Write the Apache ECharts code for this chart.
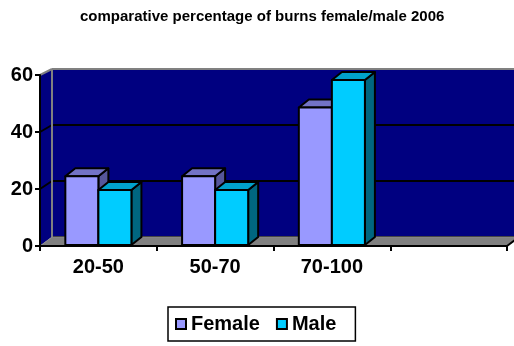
<!DOCTYPE html>
<html>
<head>
<meta charset="utf-8">
<script src="https://cdn.jsdelivr.net/npm/echarts@6/dist/echarts.min.js"></script>
<style>
  html, body { margin: 0; padding: 0; background: #fff; }
  #chart { width: 514px; height: 346px; }
</style>
</head>
<body>
<div id="chart"></div>
<script>
// Age groups on the x axis (the fourth slot is an empty category)
const categories = ['20-50', '50-70', '70-100', ''];
// Percentage of burns per age group
const female = [25, 25, 50];
const male = [20, 20, 60];
// Value axis ticks
const yTicks = [0, 20, 40, 60];

const FONT = '"Liberation Sans", Arial, sans-serif';

// Front plane of the 3D box, the back wall offset and the bar depth
const FRONT = { left: 40, right: 7, top: 75, bottom: 100 };
const WALL = { dx: 12, dyTop: -6, dyBottom: -9 };
const BARS = { left: 40, right: 7, top: 80, bottom: 101 };
const BAR_DEPTH = { dx: 10, dy: -8 };

const yMin = yTicks[0];
const yMax = yTicks[yTicks.length - 1];
const yStep = yTicks[1] - yTicks[0];

const palette = {
  Female: { front: '#9999FF', top: '#7373C6', side: '#56569A' },
  Male:   { front: '#00CCFF', top: '#00A2CC', side: '#006680' }
};

function barRenderer(name, side) {
  const col = palette[name];
  return function (params, api) {
    const idx = api.value(0);
    const val = api.value(1);
    const topPt = api.coord([idx, val]);
    const basePt = api.coord([idx, 0]);
    const band = api.size([1, 0])[0];
    const w = band * 0.283;
    const xL = side < 0 ? topPt[0] - w : topPt[0];
    const xR = xL + w;
    const yT = topPt[1];
    const yB = basePt[1];
    const dx = BAR_DEPTH.dx, dy = BAR_DEPTH.dy;
    const stroke = { stroke: '#000', lineWidth: 2, lineJoin: 'round' };
    return {
      type: 'group',
      children: [
        { type: 'polygon', shape: { points: [[xR, yT], [xR + dx, yT + dy], [xR + dx, yB + dy], [xR, yB]] },
          style: Object.assign({ fill: col.side }, stroke) },
        { type: 'polygon', shape: { points: [[xL, yT], [xR, yT], [xR + dx, yT + dy], [xL + dx, yT + dy]] },
          style: Object.assign({ fill: col.top }, stroke) },
        { type: 'rect', shape: { x: xL, y: yT, width: w, height: yB - yT },
          style: Object.assign({ fill: col.front }, stroke) }
      ]
    };
  };
}

// Floor, left side wall and back-wall rim of the box, drawn on the front grid
function frameRenderer(params, api) {
  const cs = params.coordSys;
  const x0 = cs.x, x1 = cs.x + cs.width;
  const yT = cs.y, yB = cs.y + cs.height;
  const bx0 = x0 + WALL.dx, bx1 = x1 + WALL.dx;
  const byT = yT + WALL.dyTop, byB = yB + WALL.dyBottom;
  const gray = { stroke: '#808080', lineWidth: 2 };
  const children = [];
  children.push({ type: 'polygon',
    shape: { points: [[x0, yT], [bx0, byT], [bx0, byB], [x0, yB]] },
    style: { fill: '#000080' } });
  yTicks.forEach(function (v) {
    if (v === yMin || v === yMax) return;
    const yf = api.coord([0, v])[1];
    const t = (v - yMin) / (yMax - yMin);
    const dy = WALL.dyBottom + (WALL.dyTop - WALL.dyBottom) * t;
    children.push({ type: 'line', shape: { x1: x0, y1: yf, x2: bx0, y2: yf + dy },
      style: { stroke: '#000', lineWidth: 2 } });
  });
  children.push({ type: 'line', shape: { x1: x0, y1: yT, x2: bx0, y2: byT }, style: gray });
  children.push({ type: 'line', shape: { x1: bx0, y1: byT, x2: bx0, y2: byB }, style: gray });
  children.push({ type: 'line', shape: { x1: bx0, y1: byT, x2: bx1, y2: byT }, style: gray });
  children.push({ type: 'polygon',
    shape: { points: [[x0, yB], [x1, yB], [bx1, byB], [bx0, byB]] },
    style: { fill: '#808080', stroke: '#8c8c8c', lineWidth: 1 } });
  children.push({ type: 'line', shape: { x1: x1, y1: yB, x2: bx1, y2: byB },
    style: { stroke: '#000', lineWidth: 2 } });
  return { type: 'group', children: children };
}

const chart = echarts.init(document.getElementById('chart'), null, { renderer: 'canvas' });

chart.setOption({
  animation: false,
  backgroundColor: '#ffffff',
  title: {
    text: 'comparative percentage of burns female/male 2006',
    left: 80,
    top: 9,
    padding: 0,
    textStyle: { fontFamily: FONT, fontWeight: 'bold', fontSize: 15, color: '#000' }
  },
  legend: {
    data: ['Female', 'Male'],
    left: 168,
    top: 307,
    padding: [7, 19, 7, 7],
    itemGap: 16,
    itemWidth: 10,
    itemHeight: 10,
    icon: 'rect',
    selectedMode: false,
    borderColor: '#000',
    borderWidth: 1.5,
    itemStyle: { borderColor: '#000', borderWidth: 2 },
    textStyle: { fontFamily: FONT, fontWeight: 'bold', fontSize: 20, color: '#000' }
  },
  grid: [
    { // back wall
      left: FRONT.left + WALL.dx, right: FRONT.right - WALL.dx,
      top: FRONT.top + WALL.dyTop, bottom: FRONT.bottom - WALL.dyBottom,
      show: true, backgroundColor: '#000080', borderWidth: 0
    },
    { // front plane with the visible axes
      left: FRONT.left, right: FRONT.right, top: FRONT.top, bottom: FRONT.bottom
    },
    { // plane the bars stand in
      left: BARS.left, right: BARS.right, top: BARS.top, bottom: BARS.bottom
    }
  ],
  xAxis: [
    { gridIndex: 0, type: 'category', data: categories, show: false },
    { gridIndex: 1, type: 'category', data: categories, z: 5,
      axisLine: { show: true, lineStyle: { color: '#000', width: 2 } },
      axisTick: { show: true, interval: 0, length: 5, lineStyle: { color: '#000', width: 2 } },
      axisLabel: { interval: 0, margin: 11, fontFamily: FONT, fontWeight: 'bold', fontSize: 20, color: '#000' },
      splitLine: { show: false } },
    { gridIndex: 2, type: 'category', data: categories, show: false }
  ],
  yAxis: [
    { gridIndex: 0, type: 'value', min: yMin, max: yMax, interval: yStep,
      axisLine: { show: false }, axisTick: { show: false }, axisLabel: { show: false },
      splitLine: { show: true, lineStyle: { color: '#000', width: 2 } } },
    { gridIndex: 1, type: 'value', min: yMin, max: yMax, interval: yStep, z: 5,
      axisLine: { show: true, lineStyle: { color: '#000', width: 2 } },
      axisTick: { show: true, length: 5, lineStyle: { color: '#000', width: 2 } },
      axisLabel: { margin: 7, fontFamily: FONT, fontWeight: 'bold', fontSize: 20, color: '#000',
                   padding: [3, 0, 0, 0] },
      splitLine: { show: false } },
    { gridIndex: 2, type: 'value', min: yMin, max: yMax, interval: yStep, show: false }
  ],
  series: [
    { type: 'custom', name: 'frame', xAxisIndex: 1, yAxisIndex: 1, z: 1, silent: true,
      renderItem: frameRenderer, data: [[0, 0]] },
    { type: 'custom', name: 'Female', xAxisIndex: 2, yAxisIndex: 2, z: 3,
      itemStyle: { color: palette.Female.front, borderColor: '#000', borderWidth: 1.5 },
      renderItem: barRenderer('Female', -1),
      data: female.map(function (v, i) { return [i, v]; }) },
    { type: 'custom', name: 'Male', xAxisIndex: 2, yAxisIndex: 2, z: 3,
      itemStyle: { color: palette.Male.front, borderColor: '#000', borderWidth: 1.5 },
      renderItem: barRenderer('Male', 1),
      data: male.map(function (v, i) { return [i, v]; }) }
  ]
});
</script>
</body>
</html>
